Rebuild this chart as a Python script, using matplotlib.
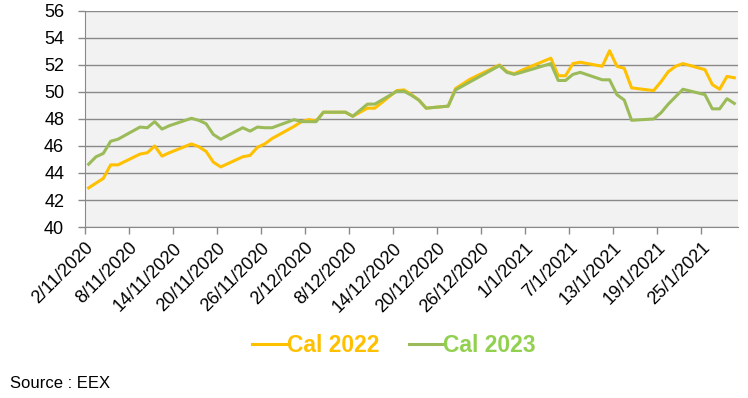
import matplotlib
matplotlib.use("Agg")
import matplotlib.pyplot as plt
import matplotlib.dates as mdates
import numpy as np
from datetime import datetime, timedelta

plt.rcParams['font.family'] = ['Liberation Sans', 'DejaVu Sans']

# Trading days (day/month/year)
dates = [
    "2/11/2020", "3/11/2020", "4/11/2020", "5/11/2020", "6/11/2020",
    "9/11/2020", "10/11/2020", "11/11/2020", "12/11/2020", "13/11/2020",
    "16/11/2020", "17/11/2020", "18/11/2020", "19/11/2020", "20/11/2020",
    "23/11/2020", "24/11/2020", "25/11/2020", "26/11/2020", "27/11/2020",
    "30/11/2020", "1/12/2020", "2/12/2020", "3/12/2020", "4/12/2020",
    "7/12/2020", "8/12/2020", "9/12/2020", "10/12/2020", "11/12/2020",
    "14/12/2020", "15/12/2020", "16/12/2020", "17/12/2020", "18/12/2020",
    "21/12/2020", "22/12/2020", "23/12/2020", "24/12/2020",
    "28/12/2020", "29/12/2020", "30/12/2020", "31/12/2020",
    "4/1/2021", "5/1/2021", "6/1/2021", "7/1/2021", "8/1/2021",
    "11/1/2021", "12/1/2021", "13/1/2021", "14/1/2021", "15/1/2021",
    "18/1/2021", "19/1/2021", "20/1/2021", "21/1/2021", "22/1/2021",
    "25/1/2021", "26/1/2021", "27/1/2021", "28/1/2021", "29/1/2021",
]

cal_2022 = [
    42.9, 43.25, 43.6, 44.6, 44.6,
    45.4, 45.5, 46.0, 45.25, 45.5,
    46.15, 45.95, 45.6, 44.8, 44.45,
    45.2, 45.3, 45.9, 46.15, 46.55,
    47.45, 47.8, 47.95, 47.85, 48.5,
    48.5, 48.2, 48.5, 48.8, 48.8,
    50.1, 50.15, 49.8, 49.4, 48.8,
    48.95, 50.25, 50.6, 50.95,
    52.0, 51.5, 51.35, 51.6,
    52.5, 51.2, 51.2, 52.1, 52.2,
    51.9, 53.05, 51.9, 51.75, 50.3,
    50.1, 50.75, 51.5, 51.9, 52.1,
    51.65, 50.55, 50.2, 51.15, 51.05,
]

cal_2023 = [
    44.65, 45.2, 45.45, 46.35, 46.5,
    47.4, 47.35, 47.8, 47.25, 47.5,
    48.05, 47.9, 47.65, 46.85, 46.5,
    47.35, 47.1, 47.4, 47.35, 47.35,
    47.95, 47.8, 47.8, 47.8, 48.5,
    48.5, 48.2, 48.65, 49.1, 49.1,
    50.05, 50.05, 49.75, 49.4, 48.8,
    48.95, 50.15, 50.45, 50.75,
    51.95, 51.45, 51.3, 51.45,
    52.1, 50.85, 50.85, 51.3, 51.45,
    50.9, 50.9, 49.8, 49.4, 47.9,
    48.0, 48.45, 49.1, 49.65, 50.2,
    49.8, 48.75, 48.75, 49.5, 49.15,
]

start = datetime(2020, 11, 2)
end = datetime(2021, 1, 30)

# points sit in the middle of each day, like the excel date axis
x = [mdates.date2num(datetime.strptime(d, "%d/%m/%Y")) + 0.5 for d in dates]

fig = plt.figure(figsize=(7.48, 3.98), dpi=100)
ax = fig.add_axes([0.1136, 0.4296, 0.873, 0.543])
ax.set_facecolor('#F2F2F2')

ax.plot(x, cal_2022, color='#FFC000', lw=2.2, label='Cal 2022')
ax.plot(x, cal_2023, color='#9BBB59', lw=2.2, label='Cal 2023')

ax.set_ylim(40, 56)
ax.set_yticks(np.arange(40, 57, 2))
ax.set_xlim(mdates.date2num(start), mdates.date2num(end))

tick_days = [start + timedelta(days=6 * i) for i in range(15)]
ax.set_xticks([mdates.date2num(t) for t in tick_days])
ax.set_xticklabels([f"{t.day}/{t.month}/{t.year}" for t in tick_days],
                   rotation=45, ha='right', rotation_mode='anchor')

ax.grid(axis='y', color='#898989', lw=1)
ax.set_axisbelow(True)
for s in ['top', 'right']:
    ax.spines[s].set_visible(False)
for s in ['left', 'bottom']:
    ax.spines[s].set_color('#898989')
ax.tick_params(axis='both', color='#898989', length=5, width=1)
ax.tick_params(axis='y', labelsize=13, pad=10)
ax.tick_params(axis='x', labelsize=13, pad=4)

leg = fig.legend(loc='center', bbox_to_anchor=(394 / 748, 1 - 346 / 398), ncol=2,
                 frameon=False, handlelength=1.5, handletextpad=0.0,
                 columnspacing=1.3, prop={'size': 16.5, 'weight': 'bold'})
for txt, col in zip(leg.get_texts(), ['#FFC000', '#92D050']):
    txt.set_color(col)

fig.text(10 / 748, 1 - 383 / 398, "Source : EEX", fontsize=12, va='center')

fig.savefig("out.png", dpi=100)
